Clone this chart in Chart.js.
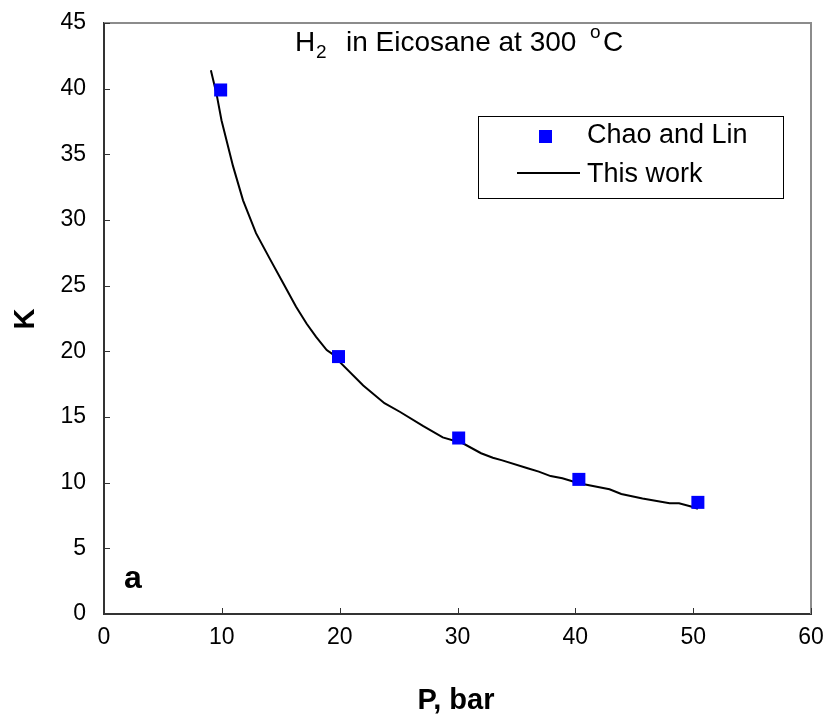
<!DOCTYPE html>
<html lang="en">
<head>
    <meta charset="UTF-8">
    <title>H2 in Eicosane</title>
    <script src="https://cdn.jsdelivr.net/npm/chart.js"></script>
    <style>
        body { margin: 0; background: #fff; }
    </style>
</head>
<body>
    <canvas id="kchart" width="830" height="720"></canvas>
    <script>
        // Chao and Lin experimental points
        const expP = [9.9, 19.9, 30.1, 40.3, 50.4];
        const expK = [39.9, 19.6, 13.4, 10.25, 8.5];

        // "This work" model curve
        const lineP = [9.07, 9.55, 9.97, 10.95, 11.8, 12.9, 14.1, 15.2, 16.3, 17.2, 18.0, 18.9, 19.7, 20.0,
                       22.0, 23.8, 25.1, 27.1, 28.75, 30.45, 32.0, 33.0, 33.8, 35.95, 36.9, 37.9, 38.9,
                       40.3, 42.9, 43.9, 45.7, 48.0, 48.8, 49.9, 50.4];
        const lineK = [41.4, 39.6, 37.6, 34.1, 31.5, 29.0, 27.0, 25.2, 23.4, 22.1, 21.1, 20.1, 19.6, 19.2,
                       17.4, 16.05, 15.4, 14.3, 13.45, 13.0, 12.24, 11.9, 11.7, 11.1, 10.84, 10.5, 10.33,
                       9.95, 9.5, 9.14, 8.8, 8.43, 8.43, 8.17, 8.0];

        const xTicks = [0, 10, 20, 30, 40, 50, 60];
        const yTicks = [0, 5, 10, 15, 20, 25, 30, 35, 40, 45];

        const FONT = 'Liberation Sans, Arial, sans-serif';

        // frame, inner ticks, title, legend, labels
        const decorations = {
            id: 'decorations',
            afterDraw(chart) {
                const ctx = chart.ctx;
                const a = chart.chartArea;
                const xs = chart.scales.x, ys = chart.scales.y;
                ctx.save();

                // grey top and right border
                ctx.strokeStyle = '#8c8c8c';
                ctx.lineWidth = 2;
                ctx.beginPath();
                ctx.moveTo(a.left, a.top);
                ctx.lineTo(a.right, a.top);
                ctx.lineTo(a.right, a.bottom);
                ctx.stroke();

                // inside tick marks
                ctx.strokeStyle = '#333';
                ctx.lineWidth = 1;
                ctx.beginPath();
                xTicks.forEach(v => {
                    const px = Math.round(xs.getPixelForValue(v)) + 0.5;
                    ctx.moveTo(px, a.bottom);
                    ctx.lineTo(px, a.bottom - 6);
                });
                yTicks.forEach(v => {
                    const py = Math.round(ys.getPixelForValue(v)) + 0.5;
                    ctx.moveTo(a.left, py);
                    ctx.lineTo(a.left + 6, py);
                });
                ctx.stroke();

                ctx.fillStyle = '#000';
                ctx.textBaseline = 'alphabetic';
                ctx.textAlign = 'left';

                // title with sub/superscript
                const big = '28px ' + FONT, small = '19px ' + FONT;
                ctx.font = big;
                ctx.fillText('H', 295, 51);
                ctx.fillText('in Eicosane at 300', 346, 51);
                ctx.fillText('C', 603, 51);
                ctx.font = small;
                ctx.fillText('2', 316, 58);
                ctx.fillText('o', 590, 38);

                // legend box
                ctx.strokeStyle = '#000';
                ctx.lineWidth = 1;
                ctx.fillStyle = '#fff';
                ctx.fillRect(478.5, 116.5, 305, 82);
                ctx.strokeRect(478.5, 116.5, 305, 82);
                const ds0 = chart.data.datasets[0], ds1 = chart.data.datasets[1];
                ctx.fillStyle = ds0.backgroundColor;
                ctx.fillRect(539, 130, 13, 13);
                ctx.strokeStyle = ds1.borderColor;
                ctx.lineWidth = 2;
                ctx.beginPath();
                ctx.moveTo(517, 173);
                ctx.lineTo(580, 173);
                ctx.stroke();
                ctx.fillStyle = '#000';
                ctx.font = '27px ' + FONT;
                ctx.fillText(ds0.label, 587, 143);
                ctx.fillText(ds1.label, 587, 182);

                // panel letter
                ctx.font = 'bold 32px ' + FONT;
                ctx.fillText('a', 124, 588);

                // axis titles
                ctx.font = 'bold 29px ' + FONT;
                ctx.textAlign = 'center';
                ctx.fillText('P, bar', 456, 709);
                ctx.save();
                ctx.translate(26, 319);
                ctx.rotate(-Math.PI / 2);
                ctx.textBaseline = 'middle';
                ctx.fillText('K', 0, 0);
                ctx.restore();

                ctx.restore();
            }
        };

        const ctx = document.getElementById('kchart').getContext('2d');
        new Chart(ctx, {
            type: 'scatter',
            data: {
                datasets: [{
                    label: 'Chao and Lin',
                    data: expP.map((p, i) => ({ x: p, y: expK[i] })),
                    pointStyle: 'rect',
                    pointRadius: 9.2,
                    pointHoverRadius: 9.2,
                    backgroundColor: '#0000ff',
                    borderColor: '#0000ff',
                    borderWidth: 0,
                    order: 0
                }, {
                    label: 'This work',
                    data: lineP.map((p, i) => ({ x: p, y: lineK[i] })),
                    showLine: true,
                    pointRadius: 0,
                    borderColor: '#000000',
                    borderWidth: 2,
                    tension: 0,
                    order: 1
                }]
            },
            options: {
                responsive: false,
                animation: false,
                layout: { padding: { top: 23, right: 19, left: 0, bottom: 0 } },
                plugins: {
                    legend: { display: false },
                    tooltip: { enabled: false }
                },
                scales: {
                    x: {
                        type: 'linear',
                        min: 0,
                        max: 60,
                        afterFit: s => {
                            s.height = 106;
                            s.paddingLeft = 0;
                            s.paddingRight = 0;
                        },
                        afterBuildTicks: s => { s.ticks = xTicks.map(v => ({ value: v })); },
                        ticks: { color: '#000', font: { family: FONT, size: 23 }, padding: 10 },
                        grid: { drawOnChartArea: false, drawTicks: false },
                        border: { color: '#333', width: 2 }
                    },
                    y: {
                        type: 'linear',
                        min: 0,
                        max: 45,
                        afterFit: s => {
                            s.width = 104;
                            s.paddingTop = 0;
                            s.paddingBottom = 0;
                        },
                        afterBuildTicks: s => { s.ticks = yTicks.map(v => ({ value: v })); },
                        ticks: { color: '#000', font: { family: FONT, size: 23 }, padding: 18 },
                        grid: { drawOnChartArea: false, drawTicks: false },
                        border: { color: '#333', width: 2 }
                    }
                }
            },
            plugins: [decorations]
        });
    </script>
</body>
</html>
